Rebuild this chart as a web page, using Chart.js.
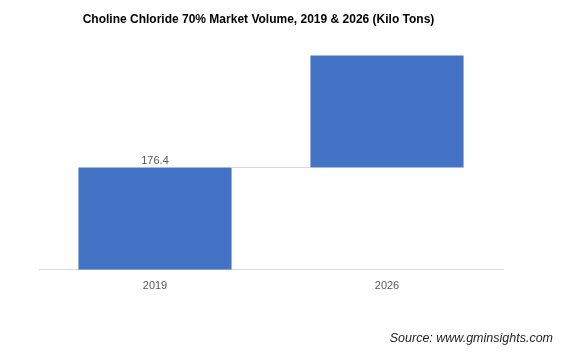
<!DOCTYPE html>
<html>
<head>
<meta charset="utf-8">
<script src="https://cdn.jsdelivr.net/npm/chart.js@4"></script>
<style>
  html, body { margin: 0; padding: 0; background: #fff; }
  #wrap { width: 573px; height: 364px; position: relative; }
</style>
</head>
<body>
<div id="wrap"><canvas id="c"></canvas></div>
<script>
const categories = ['2019', '2026'];
const volumes = [176.4, 370];
const labeledIndex = [0];
const titleText = 'Choline Chloride 70% Market Volume, 2019 & 2026 (Kilo Tons)';
const sourceText = 'Source: www.gminsights.com';

const floating = volumes.map((v, i) => i === 0 ? [0, v] : [volumes[i - 1], v]);

const extras = {
  id: 'extras',
  afterDatasetsDraw(chart) {
    const ctx = chart.ctx;
    const meta = chart.getDatasetMeta(0);
    const y = chart.scales.y;
    ctx.save();
    // title
    ctx.fillStyle = '#000';
    ctx.font = 'bold 12px "Liberation Sans", Arial, sans-serif';
    ctx.textAlign = 'center';
    ctx.textBaseline = 'middle';
    ctx.fillText(titleText, 258.5, 20);
    // connector lines
    ctx.strokeStyle = '#d9d9d9';
    ctx.lineWidth = 1;
    for (let i = 0; i < meta.data.length - 1; i++) {
      const a = meta.data[i], b = meta.data[i + 1];
      const py = Math.round(y.getPixelForValue(volumes[i])) - 0.5;
      ctx.beginPath();
      ctx.moveTo(a.x + a.width / 2, py);
      ctx.lineTo(b.x - b.width / 2, py);
      ctx.stroke();
    }
    // data labels
    ctx.fillStyle = '#595959';
    ctx.font = '11px "Liberation Sans", Arial, sans-serif';
    ctx.textAlign = 'center';
    ctx.textBaseline = 'bottom';
    labeledIndex.forEach(i => {
      const el = meta.data[i];
      ctx.fillText(volumes[i].toFixed(1), el.x, y.getPixelForValue(volumes[i]) - 1);
    });
    // source
    ctx.fillStyle = '#1f1f1f';
    ctx.font = 'italic 12.5px "Liberation Sans", Arial, sans-serif';
    ctx.textAlign = 'right';
    ctx.textBaseline = 'middle';
    ctx.fillText(sourceText, 553, 339);
    ctx.restore();
  }
};

new Chart(document.getElementById('c'), {
  type: 'bar',
  data: {
    labels: categories,
    datasets: [{
      data: floating,
      backgroundColor: '#4472C4',
      borderWidth: 0,
      barPercentage: 0.66,
      categoryPercentage: 1.0
    }]
  },
  options: {
    responsive: true,
    maintainAspectRatio: false,
    animation: false,
    devicePixelRatio: 1,
    layout: { padding: { left: 39, right: 70, top: 38, bottom: 61 } },
    plugins: {
      legend: { display: false },
      tooltip: { enabled: false },
      title: { display: false }
    },
    scales: {
      x: {
        grid: { display: false, drawTicks: false },
        border: { display: true, color: '#d9d9d9', width: 1 },
        ticks: { color: '#595959', padding: 10, font: { family: '"Liberation Sans", Arial, sans-serif', size: 11 } }
      },
      y: {
        display: false,
        min: 0,
        max: 400
      }
    }
  },
  plugins: [extras]
});
</script>
</body>
</html>
